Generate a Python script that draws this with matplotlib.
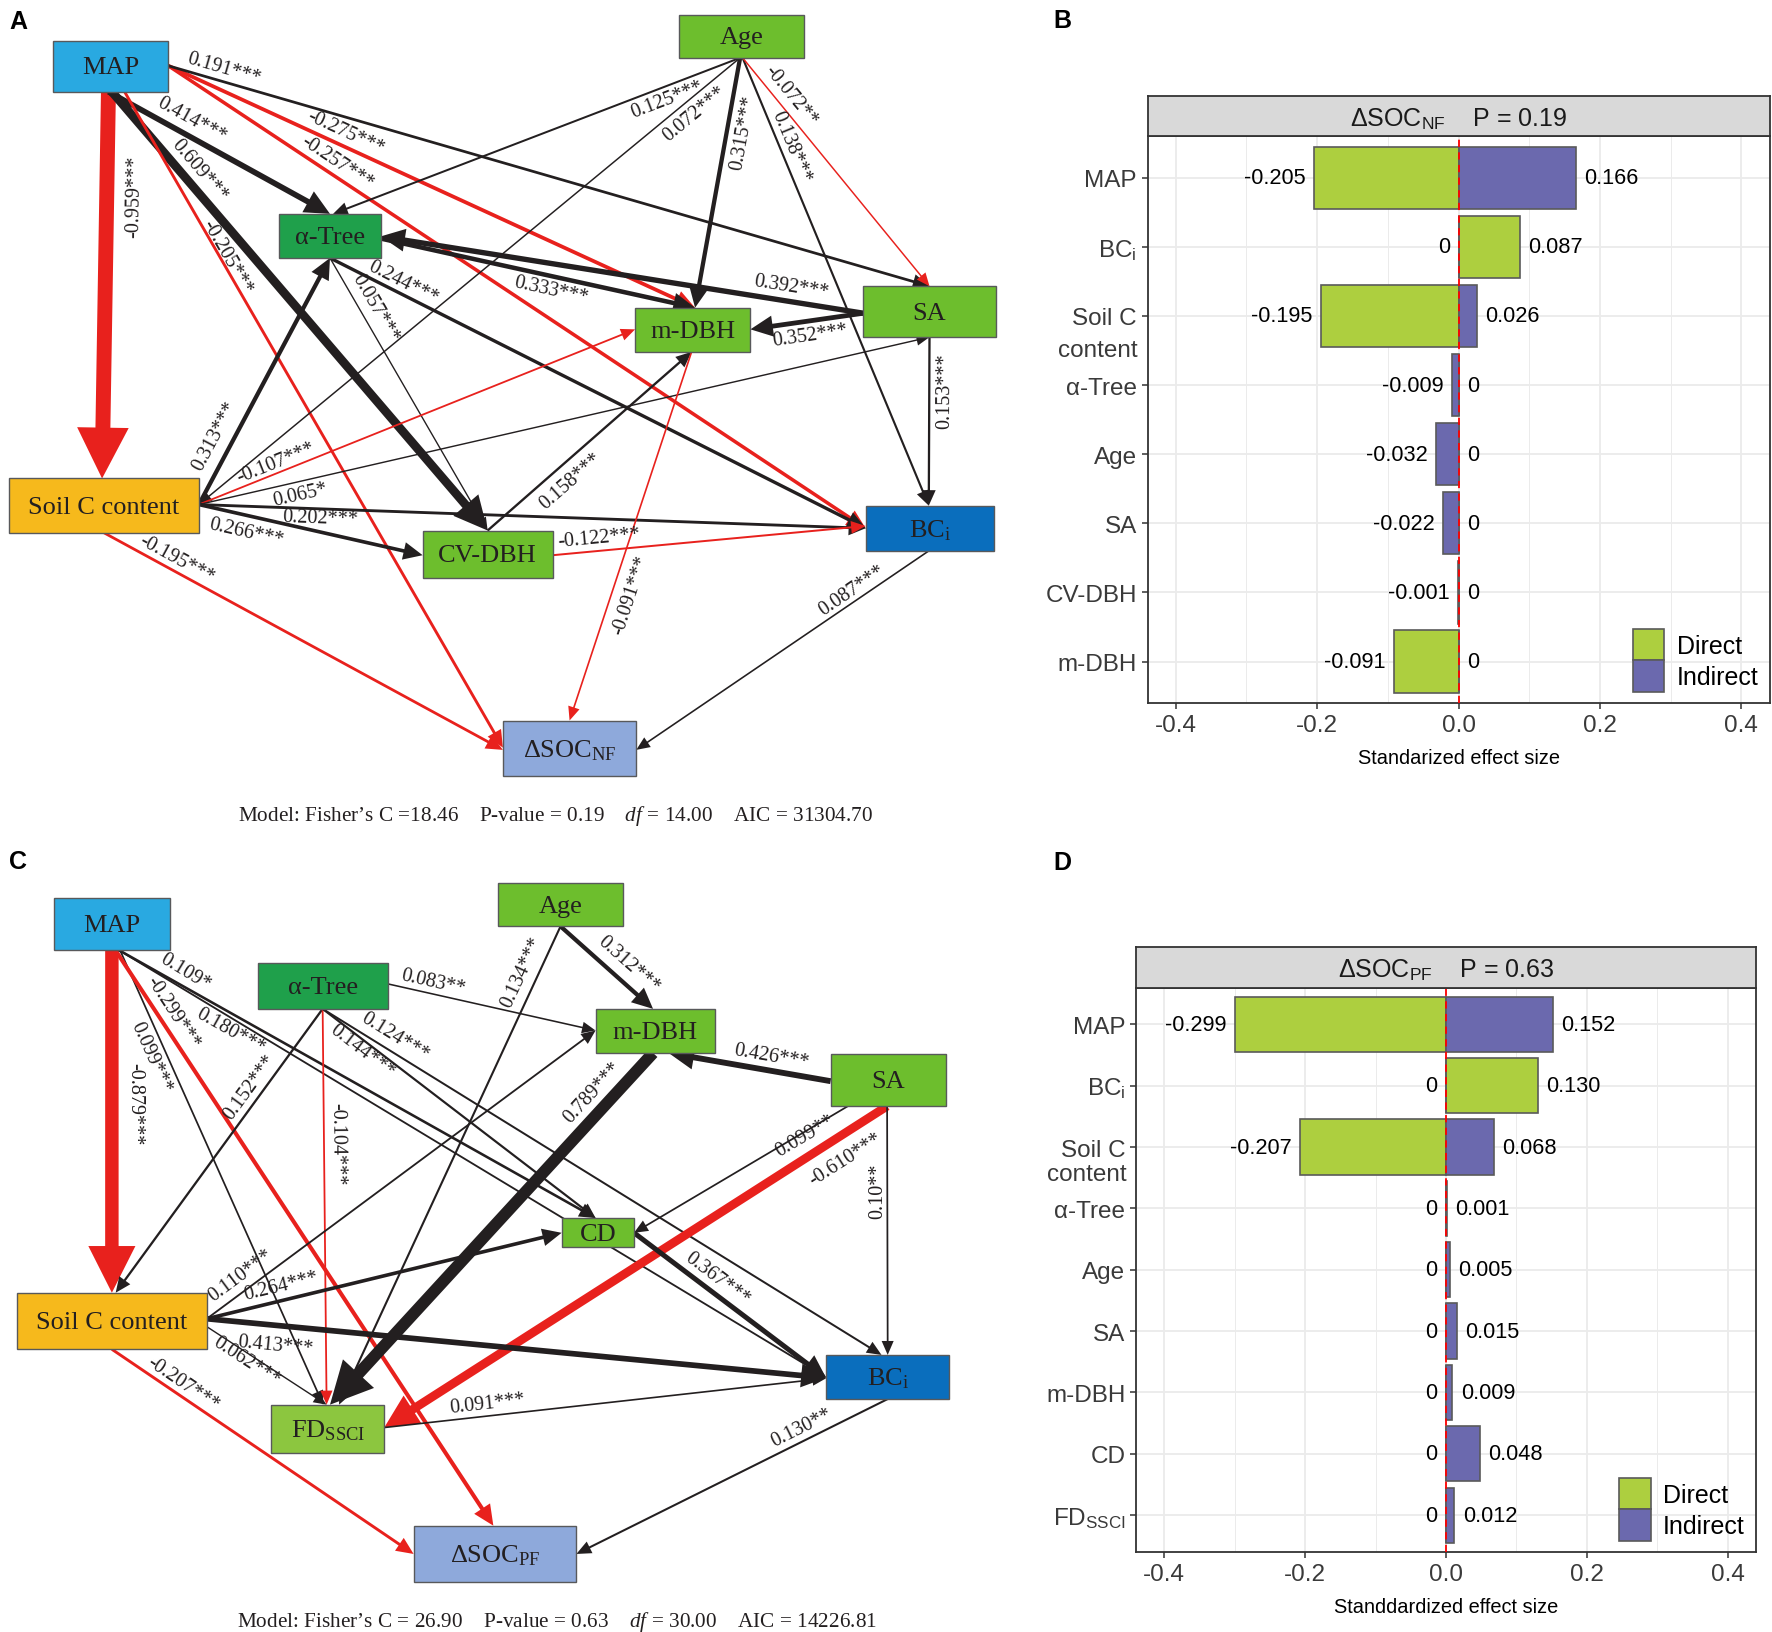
import numpy as np
import matplotlib
matplotlib.use("Agg")
import matplotlib.pyplot as plt
from matplotlib.patches import Polygon, Rectangle
from matplotlib.transforms import blended_transform_factory

plt.rcParams["mathtext.fontset"] = "custom"
plt.rcParams["mathtext.rm"] = "Liberation Serif"
plt.rcParams["mathtext.it"] = "Liberation Serif:italic"

SERIF = "Liberation Serif"
SANS = "Liberation Sans"

# ============================================================
# Data: panel A (path model, natural forests)
# ============================================================
A_from = ["MAP", "MAP", "MAP", "MAP", "MAP", "MAP", "MAP",
          "Age", "Age", "Age", "Age", "Age",
          "SA", "aTree", "SA", "aTree", "aTree",
          "SoilC", "SoilC", "SoilC", "SoilC", "SoilC", "SoilC",
          "CVDBH", "CVDBH", "mDBH", "SA", "BCi"]
A_to = ["SoilC", "aTree", "CVDBH", "mDBH", "BCi", "SA", "dSOC",
        "aTree", "SoilC", "mDBH", "BCi", "SA",
        "aTree", "mDBH", "mDBH", "BCi", "CVDBH",
        "aTree", "mDBH", "SA", "BCi", "CVDBH", "dSOC",
        "mDBH", "BCi", "dSOC", "BCi", "dSOC"]
A_coef = ["-0.959***", "0.414***", "0.609***", "-0.275***", "-0.257***", "0.191***", "-0.205***",
          "0.125***", "0.072***", "0.315***", "0.138***", "-0.072**",
          "0.392***", "0.333***", "0.352***", "0.244***", "0.057***",
          "0.313***", "-0.107***", "0.065*", "0.202***", "0.266***", "-0.195***",
          "0.158***", "-0.122***", "-0.091***", "0.153***", "0.087***"]
A_fit = ["18.46", "0.19", "14.00", "31304.70"]

# Data: panel C (path model, planted forests)
C_from = ["MAP", "MAP", "MAP", "MAP", "MAP",
          "aTree", "aTree", "aTree", "aTree", "aTree",
          "Age", "Age", "SA", "mDBH", "SA", "SA", "SA",
          "SoilC", "SoilC", "SoilC", "SoilC", "SoilC",
          "CD", "FD", "BCi"]
C_to = ["SoilC", "FD", "dSOC", "CD", "BCi",
        "mDBH", "SoilC", "FD", "CD", "BCi",
        "mDBH", "FD", "mDBH", "FD", "CD", "FD", "BCi",
        "CD", "mDBH", "BCi", "FD", "dSOC",
        "BCi", "BCi", "dSOC"]
C_coef = ["-0.879***", "0.099***", "-0.299***", "0.180***", "0.109*",
          "0.083**", "0.152***", "-0.104***", "0.144***", "0.124***",
          "0.312***", "0.134***", "0.426***", "0.789***", "0.099**", "-0.610***", "0.10**",
          "0.264***", "0.110***", "0.413***", "0.062***", "-0.207***",
          "0.367***", "0.091***", "0.130**"]
C_fit = ["26.90", "0.63", "30.00", "14226.81"]

# Data: panels B and D (standardized effects on delta SOC)
B_cats = ["MAP", r"BC$_\mathregular{i}$", "Soil C\ncontent", "α-Tree", "Age", "SA", "CV-DBH", "m-DBH"]
B_direct = [-0.205, 0.087, -0.195, 0, 0, 0, 0, -0.091]
B_indirect = [0.166, 0, 0.026, -0.009, -0.032, -0.022, -0.001, 0]
B_p = "0.19"

D_cats = ["MAP", r"BC$_\mathregular{i}$", "Soil C\ncontent", "α-Tree", "Age", "SA", "m-DBH", "CD",
          r"FD$_\mathregular{SSCI}$"]
D_direct = [-0.299, 0.130, -0.207, 0, 0, 0, 0, 0, 0]
D_indirect = [0.152, 0, 0.068, 0.001, 0.005, 0.015, 0.009, 0.048, 0.012]
D_p = "0.63"

# ============================================================
# Layout (diagram coordinates, 1568 x 1444 canvas)
# ============================================================
A_boxes = {"MAP": (47, 37, 149, 82), "Age": (601, 14, 711, 52), "aTree": (247, 190, 337, 229),
           "mDBH": (562, 273, 664, 312), "SA": (764, 254, 881, 299), "SoilC": (8, 424, 176, 472),
           "CVDBH": (374, 470, 489, 512), "BCi": (766, 448, 880, 488), "dSOC": (445, 638, 563, 687)}
A_anchor = [((0.48, 1), (0.49, 0)), ((0.48, 1), (0.5, 0)), ((0.51, 1), (0.5, 0)), ((1, 0.49), (0.52, 0)),
            ((1, 0.49), (0, 0.5)), ((1, 0.49), (0.5, 0)), ((0.62, 1), (0, 0.49)),
            ((0.49, 1), (0.53, 0)), ((0.49, 1), (1, 0.48)), ((0.49, 1), (0.52, 0)), ((0.51, 1), (0.49, 0)),
            ((0.51, 1), (0.5, 0)),
            ((0, 0.53), (1, 0.51)), ((1, 0.56), (0.52, 0)), ((0, 0.53), (1, 0.49)), ((0.5, 1), (0, 0.5)),
            ((0.5, 1), (0.5, 0)),
            ((1, 0.48), (0.5, 1)), ((1, 0.48), (0, 0.49)), ((1, 0.48), (0.5, 1)), ((1, 0.48), (0, 0.5)),
            ((1, 0.48), (0, 0.52)), ((0.5, 1), (0, 0.53)),
            ((0.5, 0), (0.49, 1)), ((1, 0.52), (0, 0.45)), ((0.49, 1), (0.5, 0)), ((0.5, 1), (0.49, 0)),
            ((0.49, 1), (1, 0.53))]
A_labxy = [(119, 174), (170, 106), (176, 151), (306, 118), (298, 144), (198, 61), (201, 228),
           (590, 89), (615, 101), (658, 118), (700, 130), (700, 85),
           (700, 254), (488, 257), (717, 297), (357, 250), (332, 273),
           (190, 386), (244, 410), (266, 438), (283, 459), (218, 471), (156, 495),
           (505, 426), (530, 476), (558, 527), (836, 346), (754, 523)]

C_boxes = {"MAP": (48, 795, 150, 841), "Age": (441, 782, 551, 820), "aTree": (228, 852, 343, 893),
           "mDBH": (527, 893, 633, 932), "SA": (735, 933, 837, 979), "CD": (497, 1078, 561, 1104),
           "SoilC": (15, 1144, 183, 1194), "BCi": (731, 1199, 840, 1238), "FD": (240, 1243, 340, 1286),
           "dSOC": (366, 1350, 510, 1400)}
C_anchor = [((0.5, 1), (0.5, 0)), ((0.57, 1), (0.46, 0)), ((0.53, 1), (0.49, 0)), ((0.56, 1), (0.47, 0)),
            ((0.56, 1), (0, 0.5)),
            ((1, 0.46), (0, 0.49)), ((0.5, 1), (0.52, 0)), ((0.5, 1), (0.49, 0)), ((0.5, 1), (0.47, 0)),
            ((0.5, 1), (0.45, 0)),
            ((0.5, 1), (0.48, 0)), ((0.5, 1), (0.6, 0)), ((0, 0.52), (0.61, 1)), ((0.48, 1), (0.52, 0)),
            ((0.15, 1), (1, 0.5)), ((0.49, 1), (1, 0.47)), ((0.49, 1), (0.5, 0)),
            ((1, 0.46), (0, 0.5)), ((1, 0.46), (0, 0.49)), ((1, 0.46), (0, 0.52)), ((1, 0.6), (0.49, 0)),
            ((0.5, 1), (0, 0.5)),
            ((1, 0.5), (0, 0.52)), ((1, 0.47), (0, 0.53)), ((0.5, 1), (1, 0.5))]
C_labxy = [(119, 976), (133, 935), (153, 896), (204, 912), (164, 860),
           (383, 869), (221, 962), (298, 1012), (320, 930), (349, 917),
           (556, 853), (462, 860), (683, 935), (524, 967), (712, 1005), (748, 1026), (777, 1053),
           (249, 1138), (213, 1128), (244, 1190), (218, 1204), (162, 1224),
           (635, 1131), (431, 1242), (709, 1263)]

GREEN = "#6DBE2D"
box_col = {"MAP": "#29A9E1", "Age": GREEN, "aTree": "#1FA04B", "mDBH": GREEN, "SA": GREEN,
           "SoilC": "#F6B91C", "CVDBH": GREEN, "CD": GREEN, "BCi": "#0A6EBD", "dSOC": "#8EA9DB",
           "FD": "#8CC63F"}
node_txt = {"MAP": "MAP", "Age": "Age", "aTree": "α-Tree", "mDBH": "m-DBH", "SA": "SA",
            "SoilC": "Soil C content", "CVDBH": "CV-DBH", "CD": "CD", "BCi": r"BC$_\mathregular{i}$",
            "FD": r"FD$_\mathregular{SSCI}$"}
RED = "#E8211D"
INK = "#231F20"

W, H = 1772, 1633
fig = plt.figure(figsize=(W / 100, H / 100), dpi=100)


def frac(x0, y0, x1, y1):
    return [x0 / W, 1 - y1 / H, (x1 - x0) / W, (y1 - y0) / H]


def arrow(ax, p0, p1, w, color):
    p0 = np.asarray(p0, float)
    p1 = np.asarray(p1, float)
    u = (p1 - p0) / np.hypot(*(p1 - p0))
    n = np.array([-u[1], u[0]])
    hl = 8 + 2.8 * w
    hw = 3 + 1.5 * w
    b = p1 - u * hl
    pts = [p0 + n * w / 2, b + n * w / 2, b + n * hw, p1, b - n * hw, b - n * w / 2, p0 - n * w / 2]
    ax.add_patch(Polygon(pts, closed=True, facecolor=color, edgecolor="none", zorder=2))


def draw_sem(ax, boxes, names, src, tgt, coef, anchors, labxy, rot_fix, fit, eq, fit_xy):
    for k in range(len(src)):
        b0, b1 = boxes[src[k]], boxes[tgt[k]]
        (fx0, fy0), (fx1, fy1) = anchors[k]
        p0 = (b0[0] + fx0 * (b0[2] - b0[0]), b0[1] + fy0 * (b0[3] - b0[1]))
        p1 = (b1[0] + fx1 * (b1[2] - b1[0]), b1[1] + fy1 * (b1[3] - b1[1]))
        c = float(coef[k].rstrip("*"))
        w = 0.9 + 13 * abs(c) ** 1.3
        arrow(ax, p0, p1, w, RED if c < 0 else INK)
        ang = np.degrees(np.arctan2(-(p1[1] - p0[1]), p1[0] - p0[0]))
        while ang >= 90:
            ang -= 180
        while ang < -90:
            ang += 180
        ang = rot_fix.get(k, ang)
        ax.text(labxy[k][0], labxy[k][1], coef[k], rotation=ang, rotation_mode="anchor",
                ha="center", va="center", fontsize=14.5, family=SERIF, color=INK, zorder=5)
    for key, (x0, y0, x1, y1) in boxes.items():
        ax.add_patch(Rectangle((x0, y0), x1 - x0, y1 - y0, facecolor=box_col[key],
                               edgecolor="#58595B", lw=1.0, zorder=3))
        ax.text((x0 + x1) / 2, (y0 + y1) / 2 + 1, names[key], ha="center", va="center",
                fontsize=19, family=SERIF, color=INK, zorder=4)
    s = ("Model: Fisher’s C " + eq + fit[0] + "    P-value = " + fit[1]
         + r"    $\mathit{df}$ = " + fit[2] + "    AIC = " + fit[3])
    ax.text(fit_xy[0], fit_xy[1], s, ha="center", va="center", fontsize=15.3, family=SERIF, color=INK)


ax_net = fig.add_axes([0, 0, 1, 1])
ax_net.set_xlim(0, 1568)
ax_net.set_ylim(1444, 0)
ax_net.axis("off")

names_A = dict(node_txt, dSOC=r"ΔSOC$_\mathregular{NF}$")
names_C = dict(node_txt, dSOC=r"ΔSOC$_\mathregular{PF}$")
draw_sem(ax_net, A_boxes, names_A, A_from, A_to, A_coef, A_anchor, A_labxy, {}, A_fit, "=", (492, 722))
draw_sem(ax_net, C_boxes, names_C, C_from, C_to, C_coef, C_anchor, C_labxy, {16: 90}, C_fit, "= ",
         (493, 1434))

# ============================================================
# Effect size panels
# ============================================================
COL_DIR = "#ADCF3F"
COL_IND = "#6B69AE"


def fmt(v):
    return "0" if v == 0 else f"{v:.3f}"


def effect_panel(rect, strip, cats, direct, indirect, sub, pval, xlab, content_dy):
    ax = fig.add_axes(frac(*rect))
    y = np.arange(len(cats))
    ax.barh(y, direct, height=0.9, color=COL_DIR, edgecolor="#5A5A5A", lw=1.2, zorder=3, label="Direct")
    ax.barh(y, indirect, height=0.9, color=COL_IND, edgecolor="#5A5A5A", lw=1.2, zorder=3, label="Indirect")
    ax.axvline(0, color="#FF0000", lw=1.3, ls=(0, (4, 3)), zorder=4)
    for yi, d, ind in zip(y, direct, indirect):
        lo, hi = min(d, ind), max(d, ind)
        ax.text(min(lo, 0) - 0.012, yi, fmt(lo), ha="right", va="center", fontsize=15.7, family=SANS)
        ax.text(max(hi, 0) + 0.012, yi, fmt(hi), ha="left", va="center", fontsize=15.7, family=SANS)
    ax.set_xlim(-0.44, 0.44)
    ax.set_ylim(len(cats) - 0.4, -0.6)
    ax.set_xticks([-0.4, -0.2, 0.0, 0.2, 0.4])
    ax.set_xticklabels(["-0.4", "-0.2", "0.0", "0.2", "0.4"])
    ax.set_xticks([-0.3, -0.1, 0.1, 0.3], minor=True)
    ax.set_yticks(y)
    ax.set_yticklabels([c.split("\n")[0] for c in cats])
    for lab in ax.get_xticklabels() + ax.get_yticklabels():
        lab.set_family(SANS)
    ax.tick_params(axis="both", which="major", length=4.6, width=1.1, color="#333333",
                   labelsize=17.5, labelcolor="#3A3A3A", pad=3)
    ax.tick_params(axis="x", which="minor", length=0)
    ax.grid(which="major", color="#EBEBEB", lw=1.3, zorder=0)
    ax.grid(which="minor", axis="x", color="#EBEBEB", lw=0.7, zorder=0)
    ax.set_axisbelow(True)
    for sp in ax.spines.values():
        sp.set_color("#333333")
        sp.set_linewidth(1.3)
    tr = blended_transform_factory(ax.transAxes, ax.transData)
    for yi, c in zip(y, cats):
        if "\n" in c:
            ax.annotate(c.split("\n")[1], xy=(0, yi), xycoords=tr, xytext=(-7, -content_dy),
                        textcoords="offset points", ha="right", va="center", fontsize=17.5,
                        family=SANS, color="#3A3A3A")
    ax.set_xlabel(xlab, fontsize=14.4, family=SANS, labelpad=9)
    ax.legend(loc="lower right", frameon=False, prop={"family": SANS, "size": 18},
              handlelength=1.25, handleheight=1.55, labelspacing=0.0, handletextpad=0.5,
              borderaxespad=0.25, borderpad=0.2)
    sax = fig.add_axes(frac(*strip))
    sax.set_facecolor("#D9D9D9")
    sax.set_xticks([])
    sax.set_yticks([])
    for sp in sax.spines.values():
        sp.set_color("#333333")
        sp.set_linewidth(1.3)
    sax.text(0.5, 0.45, "ΔSOC$_\\mathregular{" + sub + "}$    P = " + pval, transform=sax.transAxes,
             ha="center", va="center", fontsize=18, family=SANS, color="#1A1A1A")
    return ax


effect_panel((1147.5, 137.3, 1769.6, 704), (1147.5, 97.4, 1769.6, 137.3), B_cats, B_direct, B_indirect,
             "NF", B_p, "Standarized effect size", 24.5)
effect_panel((1136, 988.5, 1756, 1553), (1136, 948.4, 1756, 988.5), D_cats, D_direct, D_indirect,
             "PF", D_p, "Standdardized effect size", 19.4)

for letter, (px, py) in zip("ABCD", [(18, 22), (1062, 21), (18, 862), (1062, 863)]):
    fig.text(px / W, 1 - py / H, letter, ha="center", va="center", fontsize=18,
             fontweight="bold", family=SANS)

fig.savefig("out.png", dpi=100)
